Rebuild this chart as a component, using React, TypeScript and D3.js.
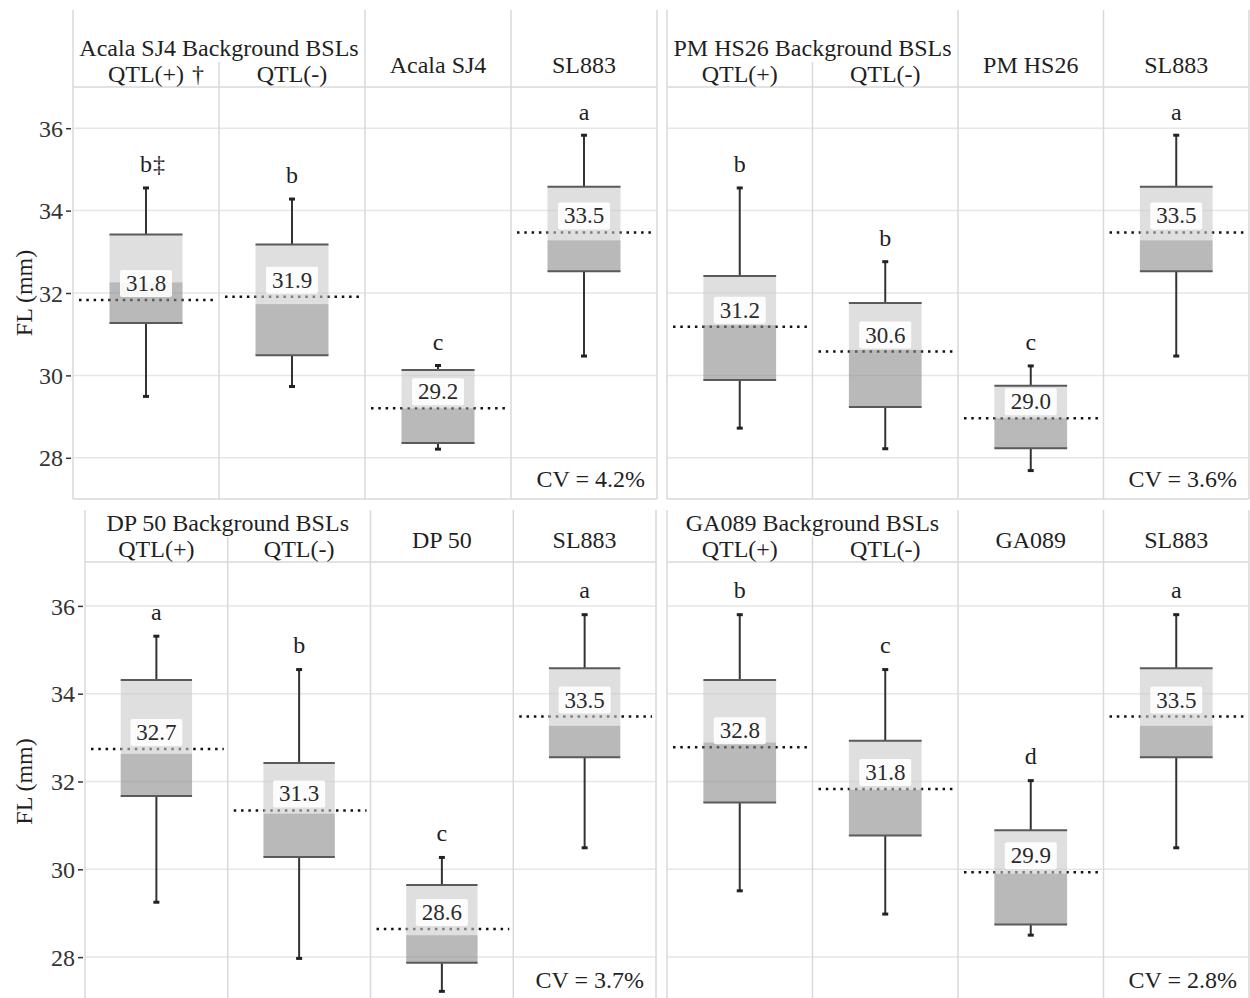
import React, { useEffect, useRef } from "react";
import * as d3 from "d3";

// ---- data (FL in mm) ----
const panelTitles = [
  "Acala SJ4 Background BSLs",
  "PM HS26 Background BSLs",
  "DP 50 Background BSLs",
  "GA089 Background BSLs",
];
const parentNames = ["Acala SJ4", "PM HS26", "DP 50", "GA089"];
const checkName = "SL883";
const qtlLabels = [
  ["QTL(+) †", "QTL(-)"],
  ["QTL(+)", "QTL(-)"],
  ["QTL(+)", "QTL(-)"],
  ["QTL(+)", "QTL(-)"],
];
const cvLabels = ["CV = 4.2%", "CV = 3.6%", "CV = 3.7%", "CV = 2.8%"];
const yTicks = [28, 30, 32, 34, 36];

const whiskerHigh = [
  [34.55, 34.28, 30.24, 35.83],
  [34.55, 32.76, 30.23, 35.83],
  [35.31, 34.55, 30.27, 35.8],
  [35.8, 34.55, 32.02, 35.8],
];
const boxHigh = [
  [33.42, 33.18, 30.13, 34.58],
  [32.41, 31.76, 29.75, 34.58],
  [34.31, 32.42, 29.64, 34.58],
  [34.31, 32.93, 30.89, 34.58],
];
const medians = [
  [32.26, 31.73, 29.2, 33.28],
  [31.22, 30.62, 28.96, 33.28],
  [32.63, 31.27, 28.5, 33.27],
  [32.89, 31.81, 29.9, 33.27],
];
const boxLow = [
  [31.27, 30.49, 28.36, 32.53],
  [29.89, 29.23, 28.23, 32.53],
  [31.67, 30.28, 27.87, 32.55],
  [31.52, 30.77, 28.74, 32.55],
];
const whiskerLow = [
  [29.49, 29.73, 28.21, 30.47],
  [28.72, 28.22, 27.69, 30.47],
  [29.25, 27.97, 27.22, 30.49],
  [29.51, 28.98, 28.5, 30.49],
];
const means = [
  [31.83, 31.91, 29.2, 33.47],
  [31.18, 30.58, 28.96, 33.47],
  [32.74, 31.34, 28.64, 33.48],
  [32.78, 31.83, 29.93, 33.48],
];
const letters = [
  ["b‡", "b", "c", "a"],
  ["b", "b", "c", "a"],
  ["a", "b", "c", "a"],
  ["b", "c", "d", "a"],
];

// panel placement on the page
const layout = [
  { x0: 73, x1: 657, top: 10, header: 87, bottom: 499, axis: true },
  { x0: 667, x1: 1249, top: 10, header: 87, bottom: 499, axis: false },
  { x0: 85, x1: 656, top: 510, header: 562, bottom: 1001, axis: true },
  { x0: 667, x1: 1249, top: 510, header: 562, bottom: 1001, axis: false },
];

const FONT = "'Liberation Serif', 'Times New Roman', serif";

// draws the main text centred at x and a trailing mark (dagger) right after it
function textWithMark(g: any, x: number, y: number, str: string, size: number, gap: number) {
  let main = str.replace(/\s*[†‡]$/, "");
  const tail = main !== str ? str.slice(-1) : null;
  const t = g
    .append("text")
    .attr("x", x)
    .attr("y", y)
    .attr("text-anchor", "middle")
    .attr("font-size", size)
    .attr("fill", "#1f1f1f")
    .text(main);
  if (tail) {
    const w = (t.node() as SVGTextElement).getComputedTextLength();
    g.append("text")
      .attr("x", x + w / 2 + gap)
      .attr("y", y)
      .attr("font-size", size)
      .attr("fill", "#1f1f1f")
      .text(tail);
  }
}

function drawPanel(svg: any, p: any, i: number) {
  const g = svg.append("g").attr("font-family", FONT);
  const x = d3.scaleBand<number>().domain([0, 1, 2, 3]).range([p.x0, p.x1]);
  const y = d3.scaleLinear().domain([27, 37]).range([p.bottom, p.header]);
  const bw = x.bandwidth();
  const cx = (k: number) => (x(k) as number) + bw / 2;

  // grid
  g.append("g")
    .selectAll("line")
    .data(yTicks)
    .join("line")
    .attr("x1", p.x0)
    .attr("x2", p.x1)
    .attr("y1", (d: number) => y(d))
    .attr("y2", (d: number) => y(d))
    .attr("stroke", "#e6e6e6")
    .attr("stroke-width", 1.5);

  // frame: header line, column dividers, bottom edge
  const frame = g.append("g").attr("stroke", "#d9d9d9").attr("stroke-width", 1.5);
  frame.append("line").attr("x1", p.x0).attr("x2", p.x1).attr("y1", p.header).attr("y2", p.header);
  if (p.bottom < 998) {
    frame.append("line").attr("x1", p.x0).attr("x2", p.x1).attr("y1", p.bottom).attr("y2", p.bottom);
  }
  frame
    .selectAll("line.v")
    .data([0, 1, 2, 3, 4])
    .join("line")
    .attr("class", "v")
    .attr("x1", (k: number) => p.x0 + k * bw)
    .attr("x2", (k: number) => p.x0 + k * bw)
    .attr("y1", (k: number) => (k === 1 ? p.header - 25 : p.top))
    .attr("y2", p.bottom);

  // header labels
  const head = g.append("g");
  head
    .append("text")
    .attr("x", p.x0 + bw)
    .attr("y", p.header - 31)
    .attr("text-anchor", "middle")
    .attr("font-size", 24)
    .attr("fill", "#1f1f1f")
    .text(panelTitles[i]);
  qtlLabels[i].forEach((lab, k) => textWithMark(head, cx(k), p.header - 5, lab, 24, 8));
  [parentNames[i], checkName].forEach((lab, k) =>
    head
      .append("text")
      .attr("x", cx(k + 2))
      .attr("y", p.header - 14)
      .attr("text-anchor", "middle")
      .attr("font-size", 24)
      .attr("fill", "#1f1f1f")
      .text(lab)
  );

  // y axis
  if (p.axis) {
    const ax = g
      .append("g")
      .attr("transform", `translate(${p.x0 - 2},0)`)
      .call(d3.axisLeft(y).tickValues(yTicks).tickSize(5).tickPadding(3));
    ax.select(".domain").remove();
    ax.selectAll("line").attr("stroke", "#333").attr("stroke-width", 1.5);
    ax.selectAll("text")
      .attr("font-family", FONT)
      .attr("font-size", 24)
      .attr("fill", "#333")
      .attr("dy", "0.34em");
    g.append("text")
      .attr("transform", `translate(32,${(p.header + p.bottom) / 2}) rotate(-90)`)
      .attr("text-anchor", "middle")
      .attr("font-size", 24)
      .attr("fill", "#1f1f1f")
      .text("FL (mm)");
  }

  const cols = [0, 1, 2, 3];

  // mean reference lines (dotted), under the box fills
  g.append("g")
    .selectAll("line")
    .data(cols)
    .join("line")
    .attr("x1", (k: number) => (x(k) as number) + 6)
    .attr("x2", (k: number) => (x(k) as number) + bw - 4)
    .attr("y1", (k: number) => y(means[i][k]))
    .attr("y2", (k: number) => y(means[i][k]))
    .attr("stroke", "#111")
    .attr("stroke-width", 2.5)
    .attr("stroke-dasharray", "2.5 4.8");

  const boxW = bw * 0.5;
  const boxes = g.append("g");
  cols.forEach((k) => {
    const c = cx(k);
    // whiskers: from box edges out to the extremes
    [
      [boxHigh[i][k], whiskerHigh[i][k]],
      [boxLow[i][k], whiskerLow[i][k]],
    ].forEach(([from, to]) => {
      boxes
        .append("line")
        .attr("x1", c)
        .attr("x2", c)
        .attr("y1", y(from))
        .attr("y2", y(to))
        .attr("stroke", "#333")
        .attr("stroke-width", 2);
      boxes
        .append("line")
        .attr("x1", c - 3)
        .attr("x2", c + 3)
        .attr("y1", y(to))
        .attr("y2", y(to))
        .attr("stroke", "#222")
        .attr("stroke-width", 3);
    });
    // upper half of box
    boxes
      .append("rect")
      .attr("x", c - boxW / 2)
      .attr("width", boxW)
      .attr("y", y(boxHigh[i][k]))
      .attr("height", y(medians[i][k]) - y(boxHigh[i][k]))
      .attr("fill", "#c9c9c9")
      .attr("fill-opacity", 0.6);
    // lower half of box
    boxes
      .append("rect")
      .attr("x", c - boxW / 2)
      .attr("width", boxW)
      .attr("y", y(medians[i][k]))
      .attr("height", y(boxLow[i][k]) - y(medians[i][k]))
      .attr("fill", "#8a8a8a")
      .attr("fill-opacity", 0.6);
    [boxHigh[i][k], boxLow[i][k]].forEach((v) =>
      boxes
        .append("line")
        .attr("x1", c - boxW / 2)
        .attr("x2", c + boxW / 2)
        .attr("y1", y(v))
        .attr("y2", y(v))
        .attr("stroke", "#5a5a5a")
        .attr("stroke-width", 2)
    );

    // mean label
    const ly = y(means[i][k]) - 3;
    boxes
      .append("rect")
      .attr("x", c - 26)
      .attr("y", ly - 27)
      .attr("width", 52)
      .attr("height", 27)
      .attr("rx", 2)
      .attr("fill", "#fff")
      .attr("fill-opacity", 0.9);
    boxes
      .append("text")
      .attr("x", c)
      .attr("y", ly - 6)
      .attr("text-anchor", "middle")
      .attr("font-size", 23)
      .attr("fill", "#2a2a2a")
      .text(d3.format(".1f")(means[i][k]));

    // significance letter
    textWithMark(boxes, c, y(whiskerHigh[i][k] + 0.38), letters[i][k], 24, 1);
  });

  // CV
  g.append("text")
    .attr("x", p.x1 - 12)
    .attr("y", y(27.3))
    .attr("text-anchor", "end")
    .attr("font-size", 24)
    .attr("fill", "#1f1f1f")
    .text(cvLabels[i]);
}

export default function App() {
  const ref = useRef<SVGSVGElement>(null);

  useEffect(() => {
    const svg = d3.select(ref.current);
    svg.selectAll("*").remove();
    layout.forEach((p, i) => drawPanel(svg, p, i));
  }, []);

  return (
    <div style={{ position: "absolute", left: 0, top: 0 }}>
      <svg ref={ref} width={1250} height={998} style={{ display: "block", background: "#fff" }} />
    </div>
  );
}
